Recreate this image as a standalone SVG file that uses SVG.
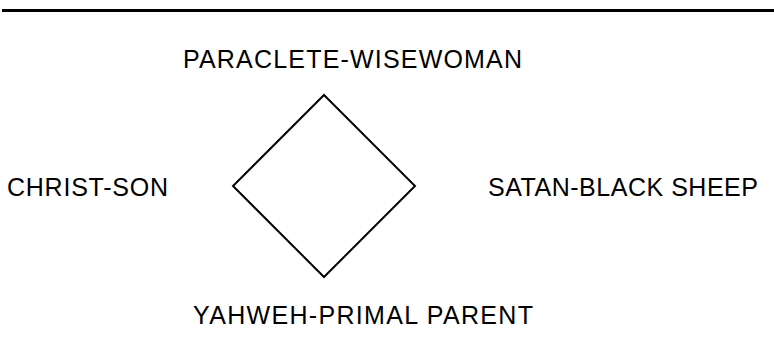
<svg xmlns="http://www.w3.org/2000/svg" width="774" height="357" viewBox="0 0 774 357">
<style>
.t{font-family:"Liberation Sans",Arial,sans-serif;font-size:25px;fill:#000}
.s{fill:none;stroke:#000;stroke-width:2}
</style>
<rect width="774" height="357" fill="#fff"/>
<line x1="2" y1="10.5" x2="774" y2="10.5" stroke="#000" stroke-width="3"/>
<g id="diamond"><polygon class="s" points="324,95 415,186 324,277 233,186"/></g>
<g id="top"><text class="t" x="183" y="68" textLength="339">PARACLETE-WISEWOMAN</text></g>
<g id="left"><text class="t" x="7" y="196" textLength="161">CHRIST-SON</text></g>
<g id="right"><text class="t" x="488" y="196" textLength="270">SATAN-BLACK SHEEP</text></g>
<g id="bottom"><text class="t" x="193" y="324" textLength="340">YAHWEH-PRIMAL PARENT</text></g>
</svg>
